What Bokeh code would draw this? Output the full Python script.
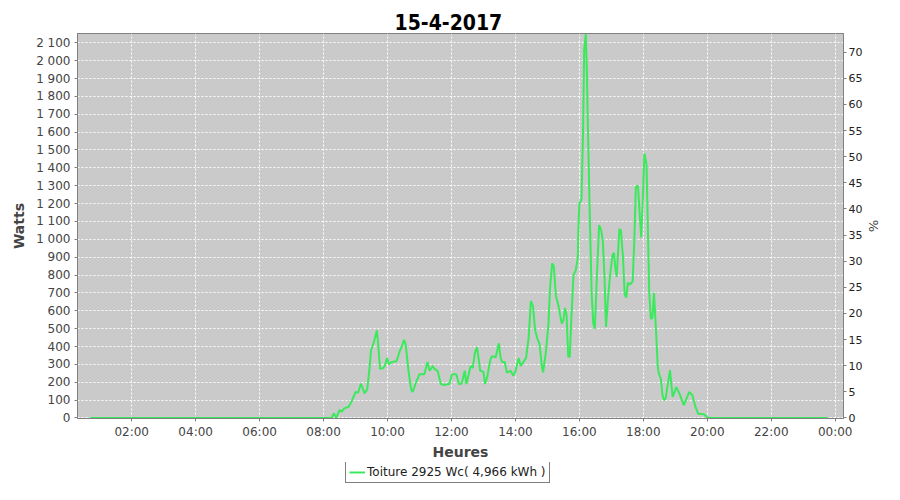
from bokeh.plotting import figure
from bokeh.layouts import column
from bokeh.models import Range1d, LinearAxis, FixedTicker, Legend, LegendItem
from bokeh.embed import file_html
from bokeh.resources import INLINE

title_text = "15-4-2017"
series_name = "Toiture 2925 Wc( 4,966 kWh )"
peak_power_wc = 2925
x_axis_label = "Heures"
y_axis_label = "Watts"
pct_axis_label = "%"

times = ["00:42", "08:15", "08:19", "08:24", "08:30", "08:34", "08:39", "08:47", "08:53", "09:00",
         "09:05", "09:10", "09:17", "09:22", "09:27", "09:29", "09:34", "09:40", "09:42", "09:46",
         "09:52", "09:55", "09:59", "10:03", "10:08", "10:17", "10:23", "10:27", "10:31", "10:34",
         "10:39", "10:44", "10:47", "10:53", "11:00", "11:09", "11:15", "11:19", "11:25", "11:28",
         "11:34", "11:40", "11:45", "11:56", "12:01", "12:09", "12:14", "12:19", "12:25", "12:28",
         "12:36", "12:40", "12:44", "12:48", "12:51", "12:54", "13:00", "13:03", "13:07", "13:13",
         "13:16", "13:23", "13:29", "13:32", "13:35", "13:40", "13:44", "13:51", "13:56", "14:00",
         "14:06", "14:10", "14:16", "14:20", "14:25", "14:29", "14:33", "14:37", "14:41", "14:45",
         "14:50", "14:52", "14:57", "15:02", "15:05", "15:09", "15:12", "15:16", "15:21", "15:24",
         "15:27", "15:30", "15:33", "15:36", "15:39", "15:42", "15:45", "15:49", "15:53", "15:57",
         "15:58", "16:00", "16:04", "16:07", "16:09", "16:12", "16:14", "16:16", "16:20", "16:23",
         "16:26", "16:29", "16:33", "16:37", "16:41", "16:44", "16:47", "16:50", "16:54", "16:58",
         "17:02", "17:05", "17:07", "17:10", "17:12", "17:15", "17:18", "17:22", "17:25", "17:28",
         "17:31", "17:35", "17:40", "17:43", "17:46", "17:50", "17:53", "17:56", "17:59", "18:02",
         "18:06", "18:09", "18:11", "18:14", "18:17", "18:20", "18:24", "18:27", "18:29", "18:33",
         "18:36", "18:39", "18:42", "18:46", "18:50", "18:55", "19:02", "19:08", "19:16", "19:26",
         "19:32", "19:38", "19:43", "19:54", "20:00", "20:06", "23:46"]

watts = [0, 0, 26, 0, 45, 35, 54, 63, 95, 145,
         142, 192, 138, 160, 300, 380, 420, 490, 430, 275,
         280, 291, 336, 300, 313, 318, 375, 400, 437, 415,
         272, 165, 145, 195, 245, 245, 313, 264, 291, 275,
         264, 190, 185, 190, 245, 245, 190, 192, 264, 190,
         291, 280, 364, 397, 330, 264, 258, 190, 227, 327,
         346, 340, 418, 340, 313, 313, 254, 264, 236, 260,
         336, 291, 318, 336, 455, 655, 625, 491, 446, 418,
         282, 255, 364, 528, 729, 865, 850, 683, 625, 573,
         528, 546, 615, 578, 346, 340, 560, 800, 825, 893,
         1038, 1202, 1221, 1622, 2059, 2150, 1950, 1622, 1075, 700,
         530, 500, 800, 1080, 1050, 990, 800, 510, 680, 810,
         910, 925, 850, 790, 893, 1057, 1050, 893, 692, 674,
         756, 747, 765, 984, 1294, 1300, 1148, 1011, 1221, 1480,
         1420, 1000, 710, 555, 560, 700, 480, 291, 250, 218,
         127, 100, 110, 190, 268, 118, 172, 135, 72, 145,
         127, 60, 23, 21, 3, 0, 0]

x_tick_hours = [2, 4, 6, 8, 10, 12, 14, 16, 18, 20, 22, 24]
x_tick_labels = ["02:00", "04:00", "06:00", "08:00", "10:00", "12:00",
                 "14:00", "16:00", "18:00", "20:00", "22:00", "00:00"]
y_ticks = list(range(0, 2101, 100))
y_tick_labels = ["0", "100", "200", "300", "400", "500", "600", "700", "800", "900",
                 "1\u00a0000", "1\u00a0100", "1\u00a0200", "1\u00a0300", "1\u00a0400",
                 "1\u00a0500", "1\u00a0600", "1\u00a0700", "1\u00a0800", "1\u00a0900",
                 "2\u00a0000", "2\u00a0100"]
pct_ticks = list(range(0, 71, 5))


def to_hours(s):
    h, m = s.split(":")
    return int(h) + int(m) / 60.0


xs = [to_hours(t) for t in times]

LINE_COLOR = "#3AEA5C"
y_lo, y_hi = -3, 2152
p = figure(width=884, height=462, output_backend="svg", toolbar_location=None,
           x_range=Range1d(0.305, 24.26), y_range=Range1d(y_lo, y_hi),
           min_border_left=77, min_border_right=35, min_border_top=33, min_border_bottom=40)

p.extra_y_ranges = {"pct": Range1d(y_lo * 100.0 / peak_power_wc, y_hi * 100.0 / peak_power_wc)}

r = p.line(xs, watts, line_color=LINE_COLOR, line_width=2)

p.background_fill_color = "#CACACA"
p.border_fill_color = "white"
p.outline_line_color = "#808080"

# title
p.title.text = title_text
p.title.align = "left"
p.title.text_font = "DejaVu Sans Condensed, DejaVu Sans"
p.title.text_font_size = "21px"
p.title.text_font_style = "bold"
p.title.text_color = "black"
p.title.standoff = 8
p.title.offset = 317

# axes
xa = p.xaxis[0]
xa.ticker = FixedTicker(ticks=x_tick_hours)
xa.major_label_overrides = {h: lab for h, lab in zip(x_tick_hours, x_tick_labels)}
xa.axis_label = x_axis_label

ya = p.yaxis[0]
ya.ticker = FixedTicker(ticks=y_ticks)
ya.major_label_overrides = {v: lab for v, lab in zip(y_ticks, y_tick_labels)}
ya.axis_label = y_axis_label

ra = LinearAxis(y_range_name="pct", ticker=FixedTicker(ticks=pct_ticks), axis_label=pct_axis_label)
p.add_layout(ra, "right")

for ax in [xa, ya, ra]:
    ax.axis_line_color = "#808080"
    ax.major_tick_line_color = "#808080"
    ax.minor_tick_line_color = None
    ax.major_tick_in = 0
    ax.major_tick_out = 3
    ax.major_label_text_font = "DejaVu Sans"
    ax.major_label_text_font_size = "12px"
    ax.major_label_text_color = "#444444"
    ax.major_label_standoff = 4
    ax.axis_label_text_font = "DejaVu Sans"
    ax.axis_label_text_font_size = "14px"
    ax.axis_label_text_font_style = "bold"
    ax.axis_label_text_color = "#444444"
    ax.axis_label_standoff = 6

xa.major_label_standoff = 3
xa.axis_label_standoff = 2

ra.major_label_text_font_size = "11px"
ra.major_label_text_color = "#222222"
ra.major_label_standoff = 2
ra.axis_label_standoff = 1
ra.axis_label_text_font_style = "normal"
ra.axis_label_text_font_size = "13px"

# grids
p.xgrid.grid_line_color = "white"
p.xgrid.grid_line_dash = "2 2"
p.ygrid.grid_line_color = "white"
p.ygrid.grid_line_dash = "2 2"

# legend strip below the chart
p2 = figure(width=884, height=22, output_backend="svg", toolbar_location=None,
            x_range=Range1d(0, 1), y_range=Range1d(0, 1),
            x_axis_location=None, y_axis_location=None,
            min_border_left=0, min_border_right=0, min_border_top=0, min_border_bottom=0)
p2.outline_line_color = None
p2.background_fill_color = "white"
p2.border_fill_color = "white"
p2.xgrid.visible = False
p2.ygrid.visible = False
r2 = p2.line([5, 6], [5, 6], line_color=LINE_COLOR, line_width=2)

legend = Legend(items=[LegendItem(label=series_name, renderers=[r2])],
                location=(268, 1), orientation="horizontal",
                border_line_color="black", border_line_width=1,
                background_fill_color="white", background_fill_alpha=1.0,
                label_text_font="DejaVu Sans", label_text_font_size="12px",
                label_text_color="#222222",
                glyph_width=16, glyph_height=14, label_height=14,
                padding=3, margin=0, label_standoff=2, spacing=0)
p2.add_layout(legend)

layout = column(p, p2, spacing=0)
open("out.html", "w").write(file_html(layout, INLINE))
